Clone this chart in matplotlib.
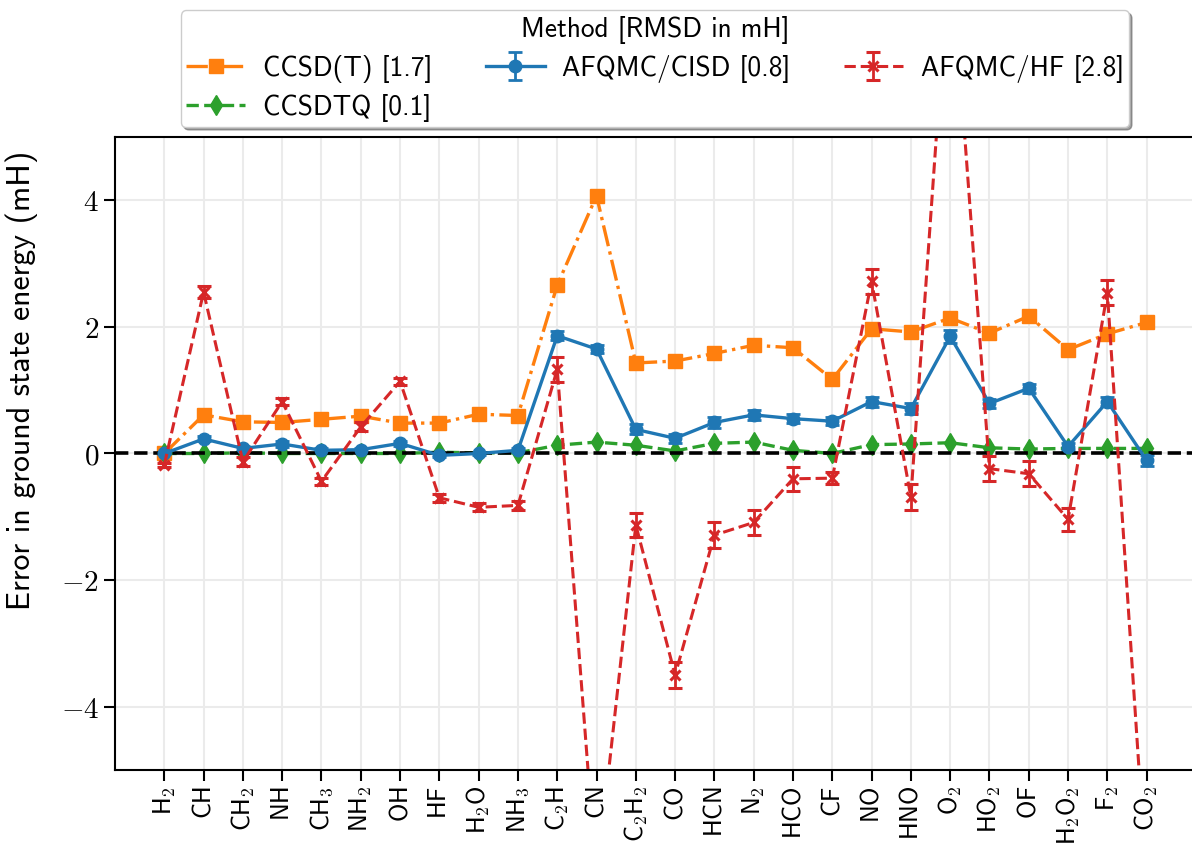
import re

import matplotlib
matplotlib.use("Agg")
import matplotlib.pyplot as plt


plt.rcParams["mathtext.fontset"] = "cm"

molecules = ["H2", "CH", "CH2", "NH", "CH3", "NH2", "OH", "HF", "H2O", "NH3",
             "C2H", "CN", "C2H2", "CO", "HCN", "N2", "HCO", "CF", "NO", "HNO",
             "O2", "HO2", "OF", "H2O2", "F2", "CO2"]

ccsd_t = [0.0, 0.61, 0.50, 0.49, 0.54, 0.59, 0.48, 0.48, 0.62, 0.60,
          2.66, 4.07, 1.43, 1.46, 1.58, 1.71, 1.67, 1.17, 1.97, 1.92,
          2.14, 1.90, 2.17, 1.64, 1.89, 2.07]

ccsdtq = [0.0, 0.0, 0.01, 0.0, 0.0, 0.0, 0.0, 0.02, 0.01, 0.01,
          0.13, 0.18, 0.13, 0.04, 0.16, 0.18, 0.05, 0.0, 0.14, 0.15,
          0.17, 0.09, 0.07, 0.08, 0.08, 0.08]

afqmc_cisd = [0.0, 0.23, 0.08, 0.15, 0.05, 0.06, 0.16, -0.03, 0.0, 0.05,
              1.86, 1.65, 0.38, 0.24, 0.49, 0.61, 0.55, 0.51, 0.82, 0.71,
              1.85, 0.79, 1.03, 0.11, 0.82, -0.11]
afqmc_cisd_err = [0.01, 0.04, 0.04, 0.04, 0.03, 0.03, 0.04, 0.03, 0.03, 0.03,
                  0.07, 0.07, 0.08, 0.07, 0.08, 0.08, 0.07, 0.06, 0.08, 0.08,
                  0.1, 0.07, 0.07, 0.06, 0.07, 0.09]

afqmc_hf = [-0.18, 2.55, -0.13, 0.82, -0.44, 0.42, 1.14, -0.70, -0.85, -0.82,
            1.33, -6.75, -1.13, -3.5, -1.29, -1.09, -0.40, -0.39, 2.72, -0.69,
            8.1, -0.24, -0.32, -1.04, 2.54, -6.8]
afqmc_hf_err = [0.03, 0.09, 0.07, 0.06, 0.06, 0.07, 0.06, 0.06, 0.06, 0.07,
                0.2, 0.2, 0.19, 0.2, 0.2, 0.2, 0.19, 0.1, 0.2, 0.2,
                0.2, 0.2, 0.2, 0.18, 0.2, 0.2]

yticks = [-4, -2, 0, 2, 4]

labels = [r"$\mathsf{" + re.sub(r"(\d)", r"_\1", m) + "}$" for m in molecules]
x = list(range(len(molecules)))

fig = plt.figure(figsize=(11.92, 8.44), dpi=100)
ax = fig.add_axes([0.0965, 0.0877, 0.906, 0.75])

l1, = ax.plot(x, ccsd_t, color="tab:orange", ls="-.", marker="s", ms=10, lw=2.4,
              label="CCSD(T) [1.7]")
l2, = ax.plot(x, ccsdtq, color="tab:green", ls="--", marker="d", ms=10, lw=2.4,
              label="CCSDTQ [0.1]")
l3 = ax.errorbar(x, afqmc_cisd, yerr=afqmc_cisd_err, color="tab:blue", ls="-",
                 marker="o", ms=9, lw=2.4, elinewidth=2, capsize=5, capthick=2,
                 label="AFQMC/CISD [0.8]")
l4 = ax.errorbar(x, afqmc_hf, yerr=afqmc_hf_err, color="tab:red", ls="--",
                 marker="x", ms=7, mew=2.2, lw=2.2, elinewidth=2, capsize=5, capthick=2,
                 label="AFQMC/HF [2.8]")
ax.axhline(0, color="k", ls="--", lw=2.6)

ax.set_xlim(-1.254, 26.23)
ax.set_ylim(-5, 5)
ax.set_xticks(x)
ax.set_xticklabels(labels, rotation=90, fontsize=18)
ax.set_yticks(yticks)
ax.set_yticklabels([f"${v}$" for v in yticks], fontsize=21)
ax.tick_params(axis="both", direction="out", length=8, width=1.5)
ax.grid(True, color="0.92", lw=1.5)
ax.set_axisbelow(True)
for s in ax.spines.values():
    s.set_linewidth(1.5)

ax.set_ylabel("Error in ground state energy (mH)", family="cmss10", fontsize=23)
ax.yaxis.set_label_coords(-0.0715, 0.616)

leg = ax.legend(handles=[l1, l2, l3, l4], title="Method [RMSD in mH]", ncol=3,
                loc="lower center", bbox_to_anchor=(0.5, 1.0), shadow=True,
                prop={"family": "cmss10", "size": 19.7},
                title_fontproperties={"family": "cmss10", "size": 19.7},
                handlelength=2.15, handletextpad=0.65, columnspacing=1.95,
                labelspacing=0.4, borderpad=0.2, borderaxespad=0.36)

plt.savefig("out.png", dpi=100)
